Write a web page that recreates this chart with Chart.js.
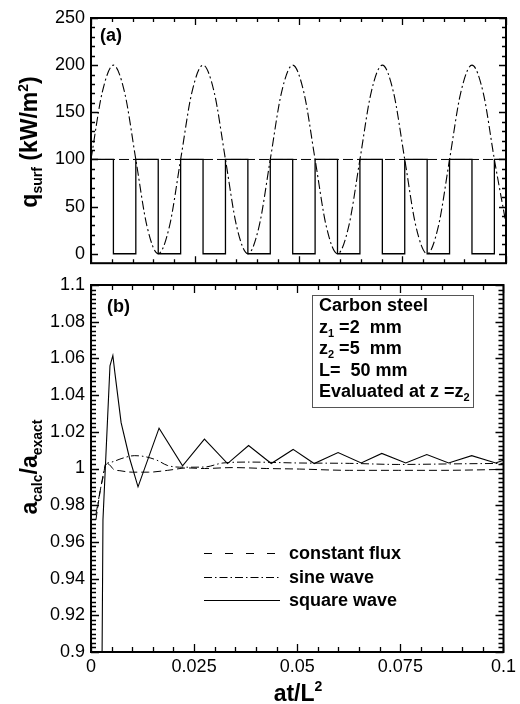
<!DOCTYPE html>
<html>
<head>
<meta charset="utf-8">
<script src="https://cdn.jsdelivr.net/npm/chart.js@4.4.0/dist/chart.umd.min.js"></script>
<style>
  html, body { margin: 0; padding: 0; background: #fff; }
  #wrap { position: relative; width: 520px; height: 704px; overflow: hidden; }
  canvas { position: absolute; left: 0; }
  #topChart { top: 0; }
  #bottomChart { top: 250px; }
</style>
</head>
<body>
<div id="wrap">
  <canvas id="topChart" width="520" height="280"></canvas>
  <canvas id="bottomChart" width="520" height="454"></canvas>
</div>
<script>
// ---- panel (a): surface heat flux vs at/L^2 ----
const qConstT = [0, 0.1];
const qConstVal = [100, 100];

const qSineT = [0, 0.0027, 0.0054, 0.0081, 0.0108, 0.0135, 0.0162, 0.0189,
  0.0216, 0.0243, 0.027, 0.0297, 0.0324, 0.0351, 0.0378, 0.0405,
  0.0432, 0.0459, 0.0486, 0.0513, 0.054, 0.0567, 0.0594, 0.0621,
  0.0648, 0.0675, 0.0702, 0.0729, 0.0756, 0.0783, 0.081, 0.0837,
  0.0864, 0.0891, 0.0918, 0.0945, 0.0972, 0.1];
const qSineVal = [100, 171, 200, 171, 100, 29, 0, 29,
  100, 171, 200, 171, 100, 29, 0, 29,
  100, 171, 200, 171, 100, 29, 0, 29,
  100, 171, 200, 171, 100, 29, 0, 29,
  100, 171, 200, 171, 100, 32];

// switching times of the square wave and the level held after each one
const qSquareT = [0, 0.0054, 0.0108, 0.0162, 0.0216, 0.027, 0.0324, 0.0378, 0.0432, 0.0486,
  0.054, 0.0594, 0.0648, 0.0702, 0.0756, 0.081, 0.0864, 0.0918, 0.0972, 0.1];
const qSquareLevel = [100, 0, 100, 0, 100, 0, 100, 0, 100, 0,
  100, 0, 100, 0, 100, 0, 100, 0, 100];

const qTicks = [0, 50, 100, 150, 200, 250];
const qTickLabels = ['0', '50', '100', '150', '200', '250'];

// ---- panel (b): a_calc / a_exact vs at/L^2 ----
const cfX = [0.0012, 0.0017, 0.0024, 0.003, 0.0036, 0.0045, 0.0055, 0.007, 0.01, 0.014,
  0.0186, 0.0234, 0.0275, 0.0343, 0.0425, 0.0505, 0.0626, 0.0746, 0.085, 0.1];
const cfY = [0.972, 0.98, 0.99, 0.996, 1.003, 1.002, 0.9995, 0.9988, 0.998, 0.998,
  0.999, 1.0003, 1.0, 1.0005, 1.0, 0.9997, 0.999, 0.999, 0.999, 0.9995];

const swX = [0.0012, 0.0024, 0.0036, 0.005, 0.0075, 0.0105, 0.013, 0.016, 0.0186, 0.0226,
  0.0275, 0.032, 0.0384, 0.0505, 0.0626, 0.0746, 0.087, 0.1];
const swY = [0.975, 0.99, 1.002, 1.0035, 1.0055, 1.007, 1.0065, 1.0045, 1.0016, 1.0007,
  1.0008, 1.003, 1.0035, 1.003, 1.0028, 1.0022, 1.0025, 1.0028];

const sqX = [0.0024, 0.0029, 0.0046, 0.0053, 0.0058, 0.0073, 0.0093, 0.0114, 0.0165, 0.0222,
  0.0275, 0.0331, 0.0382, 0.0437, 0.049, 0.0541, 0.0599, 0.0655, 0.0705, 0.0763,
  0.0814, 0.0867, 0.0923, 0.0981, 0.1];
const sqY = [0.8, 0.972, 1.056, 1.0616, 1.052, 1.025, 1.006, 0.99, 1.022, 1.0015,
  1.016, 1.0027, 1.0125, 1.0027, 1.0104, 1.0027, 1.0087, 1.003, 1.0082, 1.003,
  1.0076, 1.003, 1.007, 1.003, 1.0045];

const aTicks = [0.9, 0.92, 0.94, 0.96, 0.98, 1, 1.02, 1.04, 1.06, 1.08, 1.1];
const aTickLabels = ['0.9', '0.92', '0.94', '0.96', '0.98', '1', '1.02', '1.04', '1.06', '1.08', '1.1'];

const xTicks = [0, 0.025, 0.05, 0.075, 0.1];
const xTickLabels = ['0', '0.025', '0.05', '0.075', '0.1'];

const legendLabels = ['constant flux', 'sine wave', 'square wave'];

const FONT = '"Liberation Sans", Arial, Helvetica, sans-serif';
Chart.defaults.font.family = FONT;
Chart.defaults.color = '#000';

const DASH = [10, 4];
const DASHDOT = [8, 3, 1.5, 3];

function range(a, b, s) {
  const n = Math.round((b - a) / s);
  return Array.from({ length: n + 1 }, (_, i) => a + i * s);
}

function toPoints(xs, ys) {
  return xs.map((x, i) => ({ x: x, y: ys[i] }));
}

function squarePoints(ts, levels) {
  const pts = [];
  levels.forEach((lv, i) => {
    pts.push({ x: ts[i], y: lv });
    pts.push({ x: ts[i + 1], y: lv });
  });
  return pts;
}

// draws a run of text pieces (with sub/superscripts), centred on (x, y)
function richText(ctx, parts, x, y, angle, align) {
  ctx.save();
  ctx.translate(x, y);
  ctx.rotate(angle || 0);
  let total = 0;
  parts.forEach(p => {
    ctx.font = 'bold ' + p.size + 'px ' + FONT;
    p.w = ctx.measureText(p.t).width;
    total += p.w;
  });
  let pos = align === 'left' ? 0 : -total / 2;
  ctx.textBaseline = 'alphabetic';
  ctx.textAlign = 'left';
  ctx.fillStyle = '#000';
  parts.forEach(p => {
    ctx.font = 'bold ' + p.size + 'px ' + FONT;
    ctx.fillText(p.t, pos, p.dy || 0);
    pos += p.w;
  });
  ctx.restore();
}

// box frame and inward ticks on all four sides
const frameTicks = {
  id: 'frameTicks',
  afterDatasetsDraw(chart, args, opts) {
    const { ctx, chartArea: a } = chart;
    const x = chart.scales.x, y = chart.scales.y;
    ctx.save();
    ctx.strokeStyle = '#000';
    ctx.lineWidth = 1.3;
    ctx.setLineDash([]);
    ctx.beginPath();
    const xt = (list, len) => list.forEach(v => {
      const px = Math.round(x.getPixelForValue(v)) + 0.5;
      ctx.moveTo(px, a.bottom); ctx.lineTo(px, a.bottom - len);
      ctx.moveTo(px, a.top); ctx.lineTo(px, a.top + len);
    });
    const yt = (list, len) => list.forEach(v => {
      const py = Math.round(y.getPixelForValue(v)) + 0.5;
      ctx.moveTo(a.left, py); ctx.lineTo(a.left + len, py);
      ctx.moveTo(a.right, py); ctx.lineTo(a.right - len, py);
    });
    xt(opts.xMinor, opts.minorLen);
    xt(opts.xMajor, opts.majorLen);
    yt(opts.yMinor, opts.minorLen);
    yt(opts.yMajor, opts.majorLen);
    ctx.stroke();
    ctx.lineWidth = 2;
    ctx.strokeRect(a.left, a.top, a.right - a.left, a.bottom - a.top);
    ctx.restore();
  }
};

function lineSet(data, dash, width, smooth) {
  return {
    data: data,
    borderColor: '#000',
    borderWidth: width,
    borderDash: dash,
    pointRadius: 0,
    fill: false,
    tension: 0,
    cubicInterpolationMode: smooth ? 'monotone' : 'default'
  };
}

function yScale(min, max, ticks, labels) {
  return {
    type: 'linear',
    min: min,
    max: max,
    afterFit: s => { s.width = 91; },
    afterBuildTicks: s => { s.ticks = ticks.map(v => ({ value: v })); },
    grid: { display: false, drawTicks: false },
    border: { display: false },
    ticks: {
      autoSkip: false,
      padding: 6,
      font: { size: 18 },
      callback: (v, i) => labels[i]
    }
  };
}

// ---- top chart ----
const topLabels = {
  id: 'topLabels',
  afterDraw(chart) {
    const ctx = chart.ctx;
    richText(ctx, [{ t: '(a)', size: 18 }], 100, 41, 0, 'left');
    richText(ctx, [
      { t: 'q', size: 23 },
      { t: 'surf', size: 14, dy: 5 },
      { t: ' (kW/m', size: 23 },
      { t: '2', size: 14, dy: -9 },
      { t: ')', size: 23 }
    ], 37, 142, -Math.PI / 2);
  }
};

new Chart(document.getElementById('topChart'), {
  type: 'line',
  data: {
    datasets: [
      lineSet(toPoints(qConstT, qConstVal), DASH, 1, false),
      lineSet(toPoints(qSineT, qSineVal), [9, 3, 2, 3], 1.1, true),
      lineSet(squarePoints(qSquareT, qSquareLevel), [], 1.3, false)
    ]
  },
  options: {
    responsive: false,
    animation: false,
    devicePixelRatio: 1,
    layout: { padding: { left: 0, right: 14, top: 18, bottom: 13 } },
    plugins: {
      legend: { display: false },
      tooltip: { enabled: false },
      frameTicks: {
        xMajor: xTicks, xMinor: range(0, 0.1, 0.005),
        yMajor: qTicks, yMinor: range(0, 250, 10),
        majorLen: 7, minorLen: 4
      }
    },
    scales: {
      x: { type: 'linear', min: 0, max: 0.1, display: false },
      y: yScale(-10, 250, qTicks, qTickLabels)
    }
  },
  plugins: [frameTicks, topLabels]
});

// ---- bottom chart ----
const bottomLabels = {
  id: 'bottomLabels',
  afterDraw(chart) {
    const ctx = chart.ctx;
    const off = 250; // canvas offset on the page
    richText(ctx, [{ t: '(b)', size: 18 }], 107, 312 - off, 0, 'left');
    richText(ctx, [
      { t: 'a', size: 23 },
      { t: 'calc', size: 14, dy: 5 },
      { t: '/a', size: 23 },
      { t: 'exact', size: 14, dy: 5 }
    ], 37, 467 - off, -Math.PI / 2);
    richText(ctx, [
      { t: 'at/L', size: 23 },
      { t: '2', size: 14, dy: -10 }
    ], 298, 701 - off, 0);

    // annotation box
    ctx.save();
    ctx.strokeStyle = '#555';
    ctx.lineWidth = 1;
    ctx.strokeRect(312.5, 295.5 - off, 161, 112);
    ctx.restore();
    const boxLines = [
      [{ t: 'Carbon steel', size: 18 }],
      [{ t: 'z', size: 18 }, { t: '1', size: 11, dy: 4 }, { t: ' =2  mm', size: 18 }],
      [{ t: 'z', size: 18 }, { t: '2', size: 11, dy: 4 }, { t: ' =5  mm', size: 18 }],
      [{ t: 'L=  50 mm', size: 18 }],
      [{ t: 'Evaluated at z =z', size: 18 }, { t: '2', size: 11, dy: 4 }]
    ];
    boxLines.forEach((ln, i) => richText(ctx, ln, 319, 311 + i * 21.5 - off, 0, 'left'));

    // legend
    const dashes = [[8, 13], DASHDOT, []];
    const ys = [553, 577, 600];
    ctx.save();
    ctx.strokeStyle = '#000';
    ctx.lineWidth = 1.1;
    dashes.forEach((d, i) => {
      ctx.setLineDash(d);
      ctx.beginPath();
      ctx.moveTo(204, ys[i] - off + 0.5);
      ctx.lineTo(280, ys[i] - off + 0.5);
      ctx.stroke();
    });
    ctx.restore();
    legendLabels.forEach((t, i) => richText(ctx, [{ t: t, size: 18 }], 289, ys[i] + 6 - off, 0, 'left'));
  }
};

new Chart(document.getElementById('bottomChart'), {
  type: 'line',
  data: {
    datasets: [
      lineSet(toPoints(cfX, cfY), [8, 4], 1, true),
      lineSet(toPoints(swX, swY), DASHDOT, 1, true),
      lineSet(toPoints(sqX, sqY), [], 1.1, false)
    ]
  },
  options: {
    responsive: false,
    animation: false,
    devicePixelRatio: 1,
    layout: { padding: { left: 0, right: 15, top: 35, bottom: 0 } },
    plugins: {
      legend: { display: false },
      tooltip: { enabled: false },
      frameTicks: {
        xMajor: xTicks, xMinor: range(0, 0.1, 0.005),
        yMajor: aTicks, yMinor: range(0.9, 1.1, 0.0025),
        majorLen: 8, minorLen: 5
      }
    },
    scales: {
      x: {
        type: 'linear',
        min: 0,
        max: 0.1,
        afterFit: s => { s.height = 52; },
        afterBuildTicks: s => { s.ticks = xTicks.map(v => ({ value: v })); },
        grid: { display: false, drawTicks: false },
        border: { display: false },
        ticks: {
          autoSkip: false,
          maxRotation: 0,
          padding: 4,
          font: { size: 18 },
          callback: (v, i) => xTickLabels[i]
        }
      },
      y: yScale(0.9, 1.1, aTicks, aTickLabels)
    }
  },
  plugins: [frameTicks, bottomLabels]
});
</script>
</body>
</html>
